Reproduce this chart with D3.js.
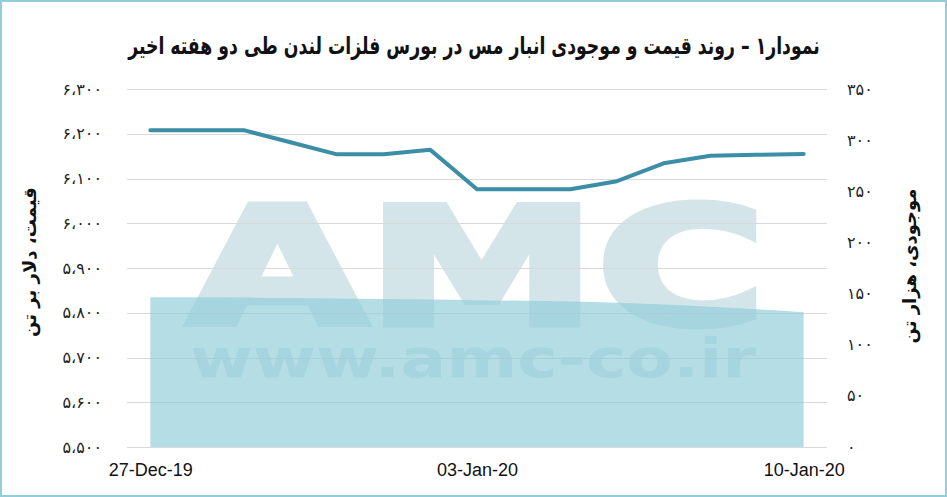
<!DOCTYPE html>
<html>
<head>
<meta charset="utf-8">
<script src="https://cdn.jsdelivr.net/npm/d3@7"></script>
<style>
  html, body { margin: 0; padding: 0; background: #fff; }
  svg { display: block; }
</style>
</head>
<body>
<svg id="chart" width="947" height="497"></svg>
<script>
// ---- data ----
const dates = ["27-Dec-19","28-Dec-19","29-Dec-19","30-Dec-19","31-Dec-19","01-Jan-20","02-Jan-20","03-Jan-20","04-Jan-20","05-Jan-20","06-Jan-20","07-Jan-20","08-Jan-20","09-Jan-20","10-Jan-20"];
const price = [6208, 6208, 6208, 6181, 6154, 6154, 6164, 6076, 6076, 6076, 6094, 6134, 6151, 6153, 6155];
const inventory = [146.4, 146.3, 146.1, 145.7, 145.2, 144.7, 144.1, 143.5, 142.9, 142.2, 141.1, 139.3, 137.1, 134.6, 131.7];
const xTickLabels = ["27-Dec-19", "03-Jan-20", "10-Jan-20"];
const leftTicks = [5500, 5600, 5700, 5800, 5900, 6000, 6100, 6200, 6300];
const leftTickLabels = ["۵،۵۰۰","۵،۶۰۰","۵،۷۰۰","۵،۸۰۰","۵،۹۰۰","۶،۰۰۰","۶،۱۰۰","۶،۲۰۰","۶،۳۰۰"];
const rightTicks = [0, 50, 100, 150, 200, 250, 300, 350];
const rightTickLabels = ["۰","۵۰","۱۰۰","۱۵۰","۲۰۰","۲۵۰","۳۰۰","۳۵۰"];
const titleText = "نمودار۱ – روند قیمت و موجودی انبار مس در بورس فلزات لندن طی دو هفته اخیر";
const leftTitle = "قیمت، دلار بر تن";
const rightTitle = "موجودی، هزار تن";
const watermark1 = "AMC";
const watermark2 = "www.amc-co.ir";

// ---- layout ----
const svg = d3.select("#chart");
const W = 947, H = 497;
const plot = { left: 127, right: 827, top: 89, bottom: 447 };

const x = d3.scalePoint().domain(dates).range([plot.left, plot.right]).padding(0.5);
const yL = d3.scaleLinear().domain([5500, 6300]).range([plot.bottom, plot.top]);
const yR = d3.scaleLinear().domain([0, 350]).range([plot.bottom, plot.top]);

// border
svg.append("rect").attr("x", 1).attr("y", 1).attr("width", W - 2).attr("height", H - 2)
  .attr("fill", "#fff").attr("stroke", "#92cddc").attr("stroke-width", 2);

// watermark
svg.append("text").attr("x", 188).attr("y", 324)
  .attr("font-family", "DejaVu Sans").attr("font-weight", "bold").attr("font-size", 163)
  .attr("textLength", 578).attr("lengthAdjust", "spacingAndGlyphs")
  .attr("fill", "#d4e5ea").attr("stroke", "#d4e5ea").attr("stroke-width", 7)
  .attr("stroke-linejoin", "miter").text(watermark1);
svg.append("text").attr("x", 190).attr("y", 377)
  .attr("font-family", "DejaVu Sans").attr("font-weight", "bold").attr("font-size", 54)
  .attr("textLength", 566).attr("lengthAdjust", "spacingAndGlyphs")
  .attr("fill", "#d4e5ea").text(watermark2);

// gridlines
svg.append("g").selectAll("line").data(leftTicks).join("line")
  .attr("x1", plot.left).attr("x2", plot.right)
  .attr("y1", d => Math.round(yL(d)) + 0.5).attr("y2", d => Math.round(yL(d)) + 0.5)
  .attr("stroke", "#d9d9d9").attr("stroke-width", 1);

// inventory area (secondary axis)
const area = d3.area()
  .x((d, i) => x(dates[i]))
  .y0(yR(0))
  .y1(d => yR(d))
  .curve(d3.curveMonotoneX);
svg.append("path").datum(inventory).attr("d", area)
  .attr("fill", "rgb(140,202,216)").attr("fill-opacity", 0.64);

// price line
const line = d3.line().x((d, i) => x(dates[i])).y(d => yL(d));
svg.append("path").datum(price).attr("d", line)
  .attr("fill", "none").attr("stroke", "#3b8ea5").attr("stroke-width", 4)
  .attr("stroke-linejoin", "round").attr("stroke-linecap", "round");

// left axis labels
const leftAxis = d3.axisLeft(yL).tickValues(leftTicks)
  .tickFormat((d, i) => leftTickLabels[i]).tickSize(0).tickPadding(0);
const gL = svg.append("g").attr("transform", "translate(102,0)").call(leftAxis);
gL.select(".domain").remove();
gL.selectAll("text").attr("font-family", "DejaVu Sans").attr("font-size", 16).attr("fill", "#222")
  .attr("direction", "ltr");

// right axis labels
const rightAxis = d3.axisRight(yR).tickValues(rightTicks)
  .tickFormat((d, i) => rightTickLabels[i]).tickSize(0).tickPadding(0);
const gR = svg.append("g").attr("transform", "translate(847,0)").call(rightAxis);
gR.select(".domain").remove();
gR.selectAll("text").attr("font-family", "DejaVu Sans").attr("font-size", 16).attr("fill", "#222");

// x axis labels
const xAxis = d3.axisBottom(x).tickValues(xTickLabels).tickSize(0).tickPadding(0);
const gX = svg.append("g").attr("transform", "translate(0,463)").call(xAxis);
gX.select(".domain").remove();
gX.selectAll("text").attr("font-family", "Liberation Sans").attr("font-size", 18).attr("fill", "#111");

// title (condensed horizontally like the reference's narrow bold face)
const titleG = svg.append("g").attr("transform", "translate(474,54) scale(0.72,1)");
titleG.append("text").attr("x", 0).attr("y", 0).attr("text-anchor", "middle")
  .attr("font-family", "DejaVu Sans").attr("font-weight", "bold").attr("font-size", 24)
  .attr("direction", "rtl").attr("fill", "#111")
  .text(titleText);

// axis titles
svg.append("text").attr("transform", "translate(36,262) rotate(-90)").attr("text-anchor", "middle")
  .attr("font-family", "DejaVu Sans").attr("font-weight", "bold").attr("font-size", 18)
  .attr("direction", "rtl").attr("fill", "#111").text(leftTitle);
svg.append("text").attr("transform", "translate(916,266) rotate(-90)").attr("text-anchor", "middle")
  .attr("font-family", "DejaVu Sans").attr("font-weight", "bold").attr("font-size", 18)
  .attr("direction", "rtl").attr("fill", "#111").text(rightTitle);
</script>
</body>
</html>
